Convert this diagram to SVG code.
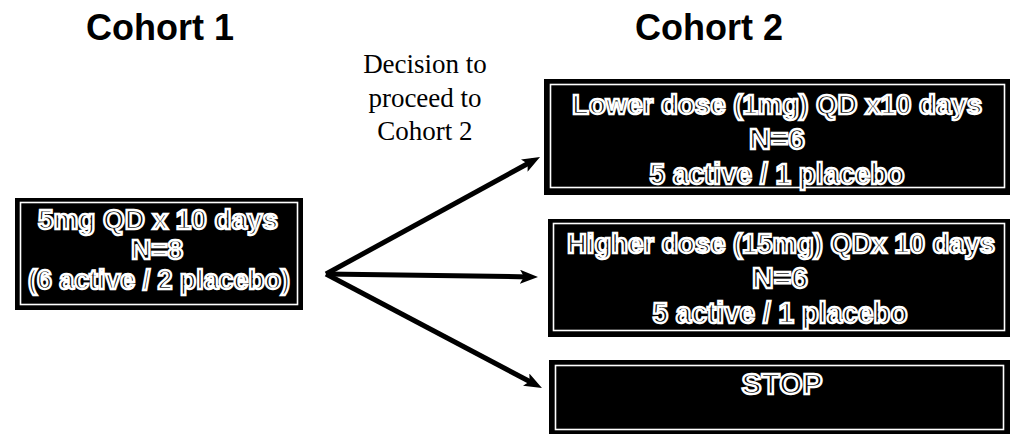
<svg xmlns="http://www.w3.org/2000/svg" width="1014" height="434" viewBox="0 0 1014 434">
<style>
.hdr{font-family:"Liberation Sans",Arial,sans-serif;font-weight:bold;font-size:36px;fill:#000;text-anchor:middle}
.dec{font-family:"Liberation Serif","Times New Roman",serif;font-size:27px;fill:#000;text-anchor:middle}
.outer{fill:#000}
.inner{fill:none;stroke:#fff;stroke-width:1.6}
.bt{font-family:"Liberation Sans",Arial,sans-serif;font-weight:bold;fill:#000;stroke:#fff;stroke-width:2.4;text-anchor:middle}
.arrow{stroke:#000;stroke-width:5;fill:none;marker-end:url(#ah)}
</style>
<defs>
<marker id="ah" viewBox="0 0 18 14" refX="10" refY="7" markerWidth="18" markerHeight="14" markerUnits="userSpaceOnUse" orient="auto">
<path d="M0,0 L18,7 L0,14 L4,7 Z" fill="#000"/>
</marker>
</defs>
<text class="hdr" x="160" y="40">Cohort 1</text>
<text class="hdr" x="709" y="40">Cohort 2</text>
<text class="dec" x="425" y="73">Decision to</text>
<text class="dec" x="425" y="107">proceed to</text>
<text class="dec" x="425" y="140">Cohort 2</text>
<g id="cohort1">
<rect class="outer" x="15" y="198" width="288" height="112"/>
<rect class="inner" x="20.5" y="202.5" width="277" height="102"/>
<text class="bt" x="158" y="229" font-size="28" textLength="240" lengthAdjust="spacingAndGlyphs">5mg QD x 10 days</text>
<text class="bt" x="157" y="259" font-size="28">N=8</text>
<text class="bt" x="159" y="289" font-size="28" textLength="262" lengthAdjust="spacingAndGlyphs">(6 active / 2 placebo)</text>
</g>
<g id="lower">
<rect class="outer" x="544" y="79" width="466" height="116"/>
<rect class="inner" x="550.5" y="84.5" width="454" height="103"/>
<text class="bt" x="777" y="114" font-size="28" textLength="410" lengthAdjust="spacingAndGlyphs">Lower dose (1mg) QD x10 days</text>
<text class="bt" x="777" y="149" font-size="30">N=6</text>
<text class="bt" x="777" y="184" font-size="30" textLength="255" lengthAdjust="spacingAndGlyphs">5 active / 1 placebo</text>
</g>
<g id="higher">
<rect class="outer" x="548" y="219" width="462" height="118"/>
<rect class="inner" x="553.5" y="223.5" width="451" height="107"/>
<text class="bt" x="781" y="253" font-size="27.5" textLength="428" lengthAdjust="spacingAndGlyphs">Higher dose (15mg) QDx 10 days</text>
<text class="bt" x="780" y="288" font-size="30">N=6</text>
<text class="bt" x="780" y="323" font-size="30" textLength="255" lengthAdjust="spacingAndGlyphs">5 active / 1 placebo</text>
</g>
<g id="stop">
<rect class="outer" x="549" y="360" width="461" height="74"/>
<rect class="inner" x="555.5" y="365.5" width="448" height="64"/>
<text class="bt" x="782" y="394" font-size="30">STOP</text>
</g>
<g id="connectors">
<line class="arrow" x1="326" y1="274" x2="533" y2="160.8"/>
<line class="arrow" x1="326" y1="274" x2="530" y2="276.9"/>
<line class="arrow" x1="326" y1="274" x2="534.9" y2="384.3"/>
</g>
</svg>
